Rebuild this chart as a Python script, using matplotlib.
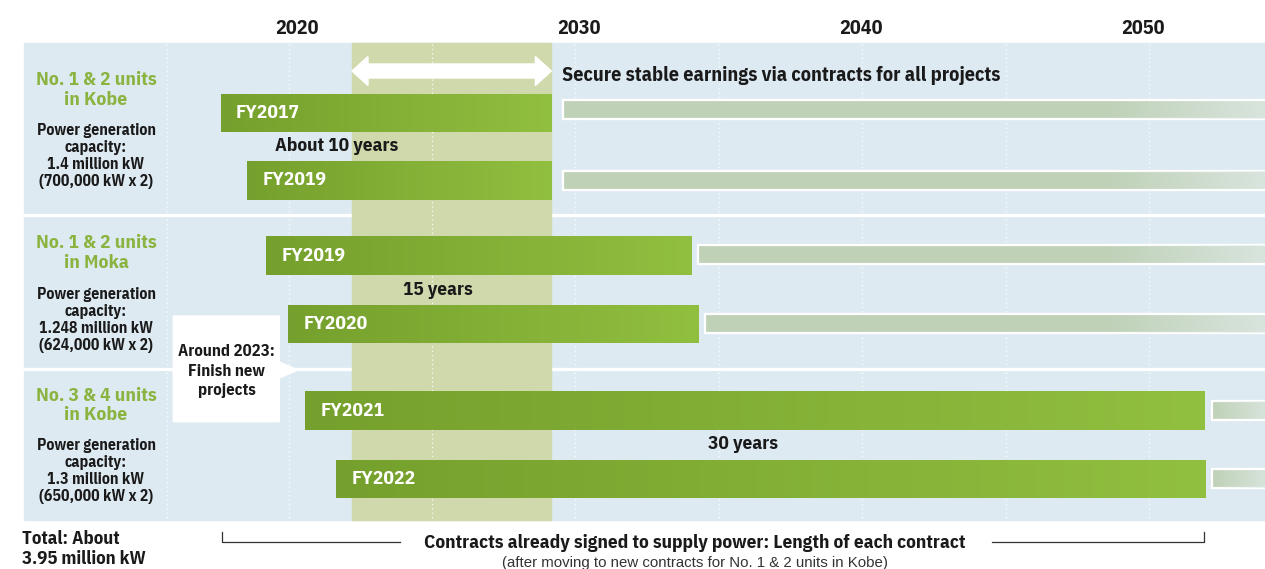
import numpy as np
import matplotlib
matplotlib.use("Agg")
import matplotlib.pyplot as plt
from matplotlib.patches import Rectangle, Polygon
from matplotlib.colors import LinearSegmentedColormap, to_rgb

# ---- data -------------------------------------------------------------
site_names = ["No. 1 & 2 units\nin Kobe", "No. 1 & 2 units\nin Moka", "No. 3 & 4 units\nin Kobe"]
site_capacity = [
    "Power generation\ncapacity:\n1.4 million kW\n(700,000 kW x 2)",
    "Power generation\ncapacity:\n1.248 million kW\n(624,000 kW x 2)",
    "Power generation\ncapacity:\n1.3 million kW\n(650,000 kW x 2)",
]
unit_labels = ["FY2017", "FY2019", "FY2019", "FY2020", "FY2021", "FY2022"]
contract_start = [2017.29, 2018.22, 2018.89, 2019.67, 2020.30, 2021.37]
contract_end = [2029.02, 2029.02, 2033.97, 2034.21, 2052.20, 2052.20]
term_labels = ["About 10 years", "15 years", "30 years"]
year_ticks = [2020, 2030, 2040, 2050]
transition_period = (2021.95, 2029.02)

# ---- style ------------------------------------------------------------
FONT = ["IBM Plex Sans Condensed", "DejaVu Sans"]
FONT_NOTE = ["Liberation Sans", "DejaVu Sans"]
plt.rcParams["font.family"] = FONT
PANEL = "#deeaf2"
BAND = "#cfd9ab"
GREEN_TXT = "#8ab43f"
LIGHT = "#bfd1b7"
DARK = "#1a1a1a"
green_cmap = LinearSegmentedColormap.from_list("g", ["#75a02d", "#91bf3f"])

W, H = 1265, 569
PX_PER_YEAR = 28.2
X0_PX = 297  # pixel column of 2020


def yr(px):
    return 2020 + (px - X0_PX) / PX_PER_YEAR


fig = plt.figure(figsize=(W / 100, H / 100), dpi=100)
ax = fig.add_axes([0, 0, 1, 1])
XMIN, XMAX = yr(0), yr(W)
ax.set_xlim(XMIN, XMAX)
ax.set_ylim(H, 0)
ax.axis("off")

# panel background and row separators
ax.add_patch(Rectangle((yr(24), 43), XMAX - yr(24) + 1, 477, color=PANEL, zorder=0))
for ysep in (214.5, 369):
    ax.plot([yr(24), XMAX + 1], [ysep, ysep], color="white", lw=2.3, zorder=1)

# transition band
ax.add_patch(Rectangle((transition_period[0], 43), transition_period[1] - transition_period[0], 477,
                       color=BAND, zorder=2))

# dotted grid
for gx in [2015.4, 2019.7, 2024.8, 2029.85, 2034.95, 2040.05, 2045.15, 2050.2]:
    ax.plot([gx, gx], [44, 520], color="white", lw=0.9, ls=(0, (1, 2.5)), alpha=0.9, zorder=3)

# year labels
for y_ in year_ticks:
    ax.text(y_, 28, str(y_), ha="center", va="center", fontsize=14.5, fontweight="bold",
            color=DARK)

# double arrow across the band
a0, a1 = transition_period
hl = 16 / PX_PER_YEAR
yc, sh, hh = 71, 7, 14.5
arrow = Polygon([(a0, yc), (a0 + hl, yc - hh), (a0 + hl, yc - sh), (a1 - hl, yc - sh),
                 (a1 - hl, yc - hh), (a1, yc), (a1 - hl, yc + hh), (a1 - hl, yc + sh),
                 (a0 + hl, yc + sh), (a0 + hl, yc + hh)], closed=True, color="white", zorder=4)
ax.add_patch(arrow)
ax.text(yr(562), 75, "Secure stable earnings via contracts for all projects", ha="left",
        va="center", fontsize=14.5, fontweight="bold", color=DARK, zorder=5)

# contract bars
row_centers = [112.8, 180.3, 255.5, 323.9, 410.5, 478.9]
light_offsets = [-3, 0, -1, 0, 0, 0]
bar_h = 38.5
light_gap_px = [12, 12, 7, 7, 7, 7]
light_h = 19
fade_rgba = np.zeros((1, 256, 4))
fade_rgba[..., :3] = to_rgb("#e2ecec")
fade_rgba[0, :, 3] = np.linspace(0, 0.75, 256)

for i, (s, e, lab, yc) in enumerate(zip(contract_start, contract_end, unit_labels, row_centers)):
    bars = ax.barh(yc, e - s, left=s, height=bar_h, color="#82ad35", zorder=6)
    grad = np.linspace(0, 1, 256).reshape(1, -1)
    im = ax.imshow(grad, cmap=green_cmap, extent=(s, e, yc + bar_h / 2, yc - bar_h / 2),
                   aspect="auto", zorder=7, interpolation="bilinear")
    im.set_clip_path(bars[0])
    ax.text(s + 15.5 / PX_PER_YEAR, yc, lab, ha="left", va="center", color="white",
            fontsize=14, fontweight="bold", zorder=8)

    # continuation after contract end, fading out
    ly = yc + light_offsets[i]
    ls = e + light_gap_px[i] / PX_PER_YEAR
    ax.barh(ly, XMAX + 1 - ls, left=ls, height=light_h, color=LIGHT,
            edgecolor="white", linewidth=1.6, zorder=6)
    fs = max(ls, yr(1105))
    ax.imshow(fade_rgba, extent=(fs, XMAX + 0.2, ly + light_h / 2 - 0.8, ly - light_h / 2 + 0.8),
              aspect="auto", zorder=7, interpolation="bilinear")

ax.set_xlim(XMIN, XMAX)
ax.set_ylim(H, 0)

# term annotations
for lab, (xpx, ypx) in zip(term_labels, [(336.5, 146), (438, 290), (743.5, 444)]):
    ax.text(yr(xpx), ypx, lab, ha="center", va="center", fontsize=13.9, fontweight="bold",
            color=DARK, zorder=9)

# left column: site names and capacities
for name, cap, (yn, ycap) in zip(site_names, site_capacity, [(90, 156), (253, 320), (405.5, 471)]):
    ax.text(yr(96), yn, name, ha="center", va="center", fontsize=14, fontweight="bold",
            color=GREEN_TXT, linespacing=1.1, zorder=9)
    ax.text(yr(96), ycap, cap, ha="center", va="center", fontsize=11.3, fontweight="bold",
            color=DARK, linespacing=1.15, zorder=9)

# callout
box = Polygon([(yr(173.3), 316), (yr(279.3), 316), (yr(279.3), 362), (yr(298), 370),
               (yr(279.3), 378), (yr(279.3), 421.7), (yr(173.3), 421.7)],
              closed=True, color="white", zorder=9)
ax.add_patch(box)
ax.text(yr(226.5), 371, "Around 2023:\nFinish new\nprojects", ha="center", va="center",
        fontsize=12, fontweight="bold", color=DARK, linespacing=1.4, zorder=10)

# footer
ax.text(yr(22), 549, "Total: About\n3.95 million kW", ha="left", va="center", fontsize=13.4,
        fontweight="bold", color=DARK, linespacing=1.2)
ax.plot([yr(221.6), yr(221.6), yr(400)], [531.5, 541.7, 541.7], color="#333333", lw=0.9)
ax.plot([yr(992), yr(1203.5), yr(1203.5)], [541.7, 541.7, 531.5], color="#333333", lw=0.9)
ax.text(yr(695), 543.5, "Contracts already signed to supply power: Length of each contract",
        ha="center", va="center", fontsize=13.9, fontweight="bold", color=DARK)
ax.text(yr(695), 563, "(after moving to new contracts for No. 1 & 2 units in Kobe)",
        ha="center", va="center", fontsize=10.8, color="#333333", family=FONT_NOTE)

fig.savefig("out.png", dpi=100)
